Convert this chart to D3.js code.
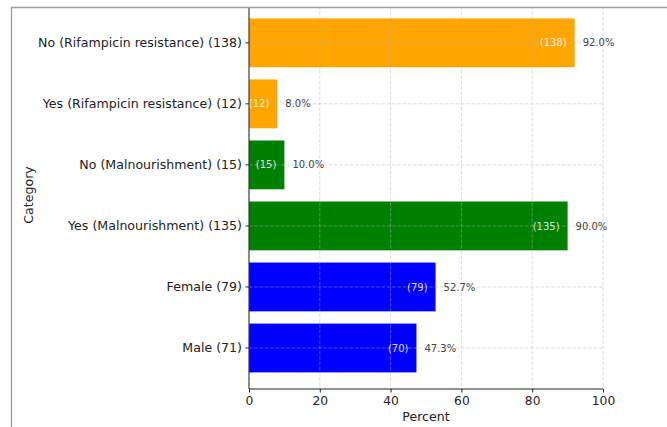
<!DOCTYPE html>
<html>
<head>
<meta charset="utf-8">
<script src="https://cdn.jsdelivr.net/npm/d3@7"></script>
<style>
  html, body { margin: 0; padding: 0; background: #fff; }
  svg { display: block; font-family: "DejaVu Sans", sans-serif; }
</style>
</head>
<body>
<svg id="chart" width="667" height="427"></svg>
<script>
// Category labels (top to bottom), percentages, counts shown inside bars, bar colours
const categories = [
  "No (Rifampicin resistance) (138)",
  "Yes (Rifampicin resistance) (12)",
  "No (Malnourishment) (15)",
  "Yes (Malnourishment) (135)",
  "Female (79)",
  "Male (71)"
];
const percents = [92.0, 8.0, 10.0, 90.0, 52.7, 47.3];
const counts = [138, 12, 15, 135, 79, 70];
const barColors = ["#FFA500", "#FFA500", "#008000", "#008000", "#0000FF", "#0000FF"];
const xTicks = [0, 20, 40, 60, 80, 100];

const rows = categories.map((c, i) => ({ cat: c, pct: percents[i], n: counts[i], color: barColors[i] }));

const svg = d3.select("#chart");
const plot = { left: 249, right: 603, top: 1, bottom: 389 };

const x = d3.scaleLinear().domain([0, 100]).range([plot.left, plot.right]);
// one step per category, bars take 0.8 of a step
const y = d3.scaleBand().domain(categories)
  .range([12.3, 378.5])
  .paddingInner(0.2).paddingOuter(0.1);
const yMid = d => y(d) + y.bandwidth() / 2;

// bars
svg.append("g").selectAll("rect").data(rows).join("rect")
  .attr("x", x(0))
  .attr("y", d => y(d.cat))
  .attr("width", d => x(d.pct) - x(0))
  .attr("height", y.bandwidth())
  .attr("fill", d => d.color);

// dashed grid on top of the bars
const grid = svg.append("g")
  .attr("stroke", "#b0b0b0").attr("stroke-opacity", 0.55)
  .attr("stroke-width", 0.8).attr("stroke-dasharray", "3.7,1.6");
grid.selectAll("line.v").data(xTicks).join("line").attr("class", "v")
  .attr("x1", d => x(d)).attr("x2", d => x(d))
  .attr("y1", plot.top).attr("y2", plot.bottom);
grid.selectAll("line.h").data(categories).join("line").attr("class", "h")
  .attr("x1", plot.left).attr("x2", plot.right)
  .attr("y1", yMid).attr("y2", yMid);

// count labels inside the bars
svg.append("g").selectAll("text").data(rows).join("text")
  .attr("x", d => x(d.pct) - 8)
  .attr("y", d => yMid(d.cat))
  .attr("dy", "0.36em")
  .attr("text-anchor", "end")
  .attr("font-size", 10)
  .attr("fill", "#fff").attr("fill-opacity", 0.85)
  .text(d => `(${d.n})`);

// percentage labels after the bars
svg.append("g").selectAll("text").data(rows).join("text")
  .attr("x", d => x(d.pct) + 8)
  .attr("y", d => yMid(d.cat))
  .attr("dy", "0.36em")
  .attr("font-size", 10)
  .attr("fill", "#444")
  .text(d => d.pct.toFixed(1) + "%");

// axes
const xAxis = svg.append("g")
  .attr("transform", `translate(0,${plot.bottom})`)
  .call(d3.axisBottom(x).tickValues(xTicks).tickSize(3.5).tickSizeOuter(0).tickPadding(3.5).tickFormat(d3.format("d")));
xAxis.select(".domain").remove();
xAxis.selectAll(".tick line").attr("stroke", "#222");
xAxis.selectAll(".tick text").attr("font-size", 12.3).attr("fill", "#222").attr("font-family", "DejaVu Sans");

const yAxis = svg.append("g")
  .attr("transform", `translate(${plot.left},0)`)
  .call(d3.axisLeft(y).tickSize(3.5).tickPadding(3.5).tickSizeOuter(0));
yAxis.select(".domain").remove();
yAxis.selectAll(".tick line").attr("stroke", "#222");
yAxis.selectAll(".tick text").attr("font-size", 12.6).attr("fill", "#222").attr("font-family", "DejaVu Sans");

// left and bottom spines
svg.append("path")
  .attr("d", `M${plot.left},${plot.top}V${plot.bottom}H${plot.right}`)
  .attr("fill", "none").attr("stroke", "#222").attr("stroke-width", 1);

// axis titles
svg.append("text")
  .attr("x", (plot.left + plot.right) / 2).attr("y", 421)
  .attr("text-anchor", "middle").attr("font-size", 12.6).attr("fill", "#222")
  .text("Percent");
svg.append("text")
  .attr("transform", `translate(32.7,${(plot.top + plot.bottom) / 2}) rotate(-90)`)
  .attr("text-anchor", "middle").attr("font-size", 12.6).attr("fill", "#222")
  .text("Category");

// page frame around the figure
svg.append("rect").attr("x", 0).attr("y", 0).attr("width", 667).attr("height", 7).attr("fill", "#fff");
svg.append("line").attr("x1", 11).attr("x2", 667).attr("y1", 7.5).attr("y2", 7.5)
  .attr("stroke", "#a0a0a0").attr("stroke-width", 1.3);
svg.append("line").attr("x1", 11.5).attr("x2", 11.5).attr("y1", 7).attr("y2", 427)
  .attr("stroke", "#a0a0a0").attr("stroke-width", 1.3);
</script>
</body>
</html>
